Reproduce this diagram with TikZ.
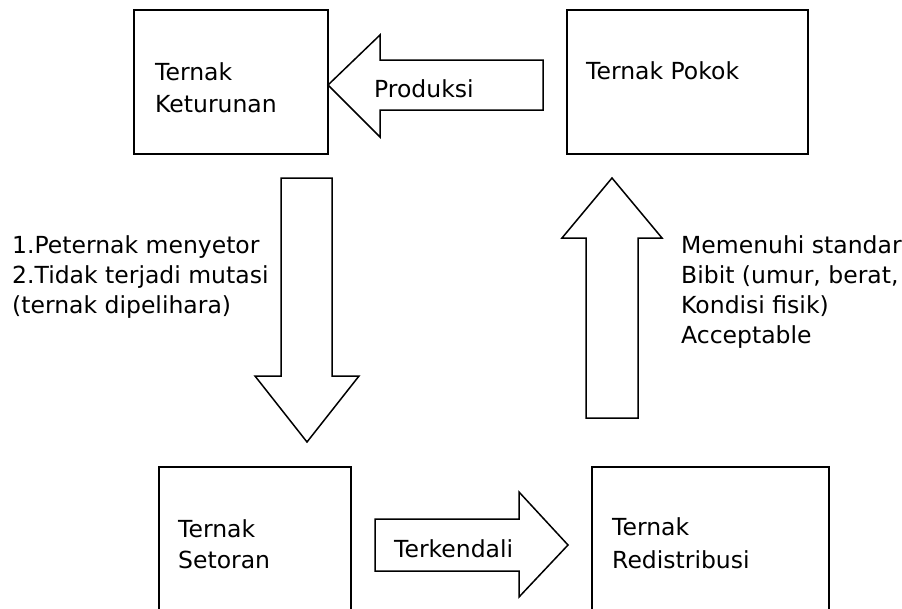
\documentclass[tikz,border=0pt]{standalone}
\usepackage{fontspec}
\setmainfont{DejaVu Sans}
\begin{document}
\begin{tikzpicture}[x=1pt,y=-1pt,
  box/.style={draw, line width=1.5pt, inner sep=0pt, outer sep=0pt, anchor=north west},
  blockarrow/.style={draw, line width=1.5pt, line join=miter, fill=white},
  lbl/.style={anchor=base west, inner sep=0pt, font=\fontsize{23.5}{30}\selectfont}]
\useasboundingbox (0,0) rectangle (902,608);
\clip (0,0) rectangle (902,608);
% boxes
\node[box, minimum width=194pt, minimum height=144pt] (ket) at (134,10) {};
\node[box, minimum width=241pt, minimum height=144pt] (pok) at (567,10) {};
\node[box, minimum width=192pt, minimum height=180pt] (set) at (159,467) {};
\node[box, minimum width=237pt, minimum height=180pt] (red) at (592,467) {};
% block arrows
\draw[blockarrow] (328,85) -- (380,35) -- (380,60) -- (543,60) -- (543,110) -- (380,110) -- (380,137) -- cycle;
\draw[blockarrow] (281,178) -- (332,178) -- (332,376) -- (359,376) -- (307,442) -- (255,376) -- (281,376) -- cycle;
\draw[blockarrow] (612,178) -- (662,238) -- (638,238) -- (638,418) -- (586,418) -- (586,238) -- (562,238) -- cycle;
\draw[blockarrow] (375,519) -- (519,519) -- (519,492) -- (568,545) -- (519,597) -- (519,571) -- (375,571) -- cycle;
% texts
\node[lbl] (t1a) at (155,80) {Ternak};
\node[lbl] (t1b) at (155,112) {Keturunan};
\node[lbl] (tprod) at (374,97) {Produksi};
\node[lbl] (t2) at (586,79) {Ternak Pokok};
\node[lbl] (l1) at (12,253) {1.Peternak menyetor};
\node[lbl] (l2) at (12,283) {2.Tidak terjadi mutasi};
\node[lbl] (l3) at (12,313) {(ternak dipelihara)};
\node[lbl] (r1) at (681,253) {Memenuhi standar};
\node[lbl] (r2) at (681,283) {Bibit (umur, berat,};
\node[lbl] (r3) at (681,313) {Kondisi fisik)};
\node[lbl] (r4) at (681,343) {Acceptable};
\node[lbl] (t3a) at (178,537) {Ternak};
\node[lbl] (t3b) at (178,568) {Setoran};
\node[lbl] (tterk) at (394,557) {Terkendali};
\node[lbl] (t4a) at (612,535) {Ternak};
\node[lbl] (t4b) at (612,568) {Redistribusi};
\end{tikzpicture}
\end{document}
